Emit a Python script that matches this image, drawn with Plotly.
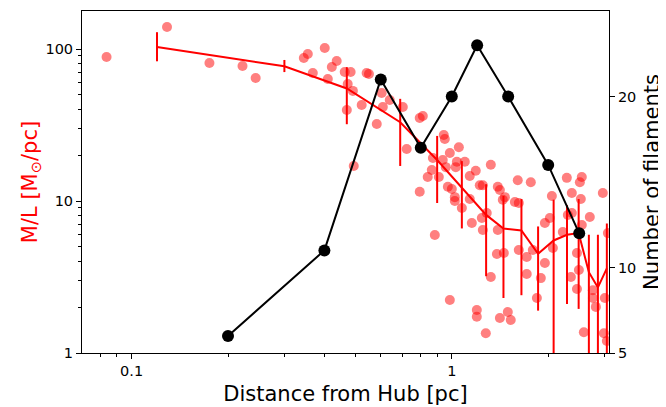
import plotly.graph_objects as go

# Individual filament M/L measurements (scatter, left log axis)
dist_pts = [0.0835, 0.129, 0.175, 0.222, 0.244, 0.345, 0.355, 0.401, 0.368, 0.410,
            0.422, 0.437, 0.463, 0.483, 0.542, 0.551, 0.473, 0.491, 0.604, 0.640,
            0.470, 0.523, 0.609, 0.703, 0.583, 0.794, 0.812, 0.723, 0.494, 0.944,
            0.951, 1.052, 0.986, 0.873, 0.937, 1.037, 1.098, 0.958, 1.029, 1.324,
            1.188, 0.866, 0.841, 0.911, 1.138, 1.223, 1.250, 1.392, 1.413, 0.972,
            1.000, 0.794, 1.022, 1.022, 1.465, 1.574, 1.607, 1.765, 1.075, 1.138,
            1.286, 1.241, 0.885, 0.986, 1.197, 1.197, 1.277, 1.413, 1.496, 1.528,
            1.324, 1.155, 1.250, 1.392, 1.383, 1.454, 1.619, 1.714, 1.714, 1.844,
            1.897, 1.953, 1.953, 2.024, 2.054, 2.069, 2.287, 2.512, 2.547, 2.963,
            2.371, 2.529, 2.304, 2.371, 2.698, 2.547, 2.222, 2.460, 2.494, 2.355,
            2.460, 2.758, 2.758, 2.818, 3.006, 3.073, 2.585, 2.985, 3.050, 1.443,
            1.619, 1.791]
ml_pts = [88.5, 139.5, 80.9, 77.3, 64.5, 87.3, 92.7, 101.5, 69.5, 63.5,
          76.2, 83.4, 70.6, 70.6, 69.5, 68.5, 58.9, 53.0, 51.4, 46.2,
          39.7, 42.8, 41.5, 41.5, 32.1, 35.2, 36.2, 22.0, 17.0, 27.2,
          25.6, 22.6, 20.7, 19.2, 18.6, 18.1, 18.1, 16.7, 16.7, 17.3,
          15.8, 16.0, 14.4, 14.4, 14.6, 12.7, 12.7, 12.4, 11.8, 12.4,
          12.0, 11.5, 10.6, 10.0, 10.6, 9.85, 13.7, 13.3, 9.0, 10.3,
          8.34, 7.73, 5.97, 2.23, 1.92, 1.73, 1.35, 1.70, 1.86, 1.65,
          3.16, 7.16, 6.44, 6.44, 4.48, 4.55, 4.76, 4.28, 3.31, 2.30,
          3.11, 3.91, 7.16, 7.73, 10.8, 4.91, 14.2, 13.3, 14.4, 11.3,
          11.3, 10.3, 8.09, 8.34, 7.85, 6.95, 6.25, 4.55, 3.52, 3.16,
          2.64, 2.59, 2.30, 2.01, 2.30, 6.15, 1.37, 1.35, 1.20, 10.2,
          9.70, 4.76]

# Binned mean M/L with error bars
bin_dist = [0.12, 0.30, 0.47, 0.69, 0.90, 1.075, 1.28, 1.45, 1.65, 1.86,
            2.08, 2.29, 2.49, 2.68, 2.86, 3.05]
bin_ml = [103, 77, 55, 33, 18.6, 12.2, 8.1, 6.6, 6.4, 4.5,
          5.5, 6.0, 6.15, 3.4, 2.7, 3.6]
bin_err_up = [26, 7.7, 21, 14, 8.2, 6.1, 4.8, 4.2, 3.9, 2.3,
              4.7, 3.4, 4.15, 2.6, 3.3, 3.5]
bin_err_dn = [20, 6.5, 23, 16, 8.9, 5.6, 4.9, 4.3, 4.0, 2.6,
              4.7, 3.9, 4.2, 2.6, 3.3, 3.5]

# Number of filaments (right linear axis)
nf_dist = [0.2, 0.4, 0.6, 0.8, 1.0, 1.2, 1.5, 2.0, 2.5]
nf_count = [6, 11, 21, 17, 20, 23, 20, 16, 12]

minor_x = [0.08, 0.09, 0.2, 0.3, 0.4, 0.5, 0.6, 0.7, 0.8, 0.9, 2, 3]
minor_y = [2, 3, 4, 5, 6, 7, 8, 9, 20, 30, 40, 50, 60, 70, 80, 90, 200]

FONT = "DejaVu Sans"
TICKF = 14.5
TITLEF = 21

fig = go.Figure()

fig.add_trace(go.Scatter(
    x=dist_pts, y=ml_pts, mode="markers",
    marker=dict(size=10, color="rgba(255,0,0,0.5)", line=dict(width=0)),
    showlegend=False, yaxis="y"))

fig.add_trace(go.Scatter(
    x=bin_dist, y=bin_ml, mode="lines",
    line=dict(color="#ff0000", width=2),
    error_y=dict(type="data", array=bin_err_up, arrayminus=bin_err_dn,
                 symmetric=False, color="#ff0000", thickness=2, width=0),
    showlegend=False, yaxis="y"))

fig.add_trace(go.Scatter(
    x=nf_dist, y=nf_count, mode="lines+markers",
    line=dict(color="black", width=2),
    marker=dict(size=12, color="black"),
    showlegend=False, yaxis="y2"))

fig.update_layout(
    width=658, height=399,
    margin=dict(l=74, r=57, t=3, b=54, autoexpand=False),
    paper_bgcolor="white", plot_bgcolor="white",
    font=dict(family=FONT, size=TICKF, color="black"),
    xaxis=dict(
        type="log", range=[-1.155, 0.491], automargin=False,
        tickvals=[0.1, 1], ticktext=["0.1", "1"],
        ticks="outside", ticklen=5, tickwidth=1, tickcolor="black",
        showline=True, linecolor="black", linewidth=1, mirror=True,
        showgrid=False, zeroline=False,
        minor=dict(tickmode="array", tickvals=minor_x, ticks="outside",
                   ticklen=3, tickwidth=1, tickcolor="black", showgrid=False),
        title=dict(text="Distance from Hub [pc]", font=dict(size=TITLEF), standoff=7),
    ),
    yaxis=dict(
        type="log", range=[0, 2.25], automargin=False,
        tickvals=[1, 10, 100], ticktext=["1", "10", "100"],
        ticks="outside", ticklen=5, tickwidth=1, tickcolor="black",
        showline=True, linecolor="black", linewidth=1,
        showgrid=False, zeroline=False,
        minor=dict(tickmode="array", tickvals=minor_y, ticks="outside",
                   ticklen=3, tickwidth=1, tickcolor="black", showgrid=False),
        title=dict(text="M/L [M<sub>⊙</sub>/pc]", font=dict(size=TITLEF, color="#ff0000"),
                   standoff=2),
    ),
    yaxis2=dict(
        overlaying="y", side="right", range=[5, 25], automargin=False,
        tickvals=[5, 10, 20], ticktext=["5", "10", "20"],
        ticks="outside", ticklen=5, tickwidth=1, tickcolor="black",
        showline=True, linecolor="black", linewidth=1,
        showgrid=False, zeroline=False,
        title=dict(text="Number of filaments", font=dict(size=TITLEF), standoff=8),
    ),
)

fig.write_html("out.html")
